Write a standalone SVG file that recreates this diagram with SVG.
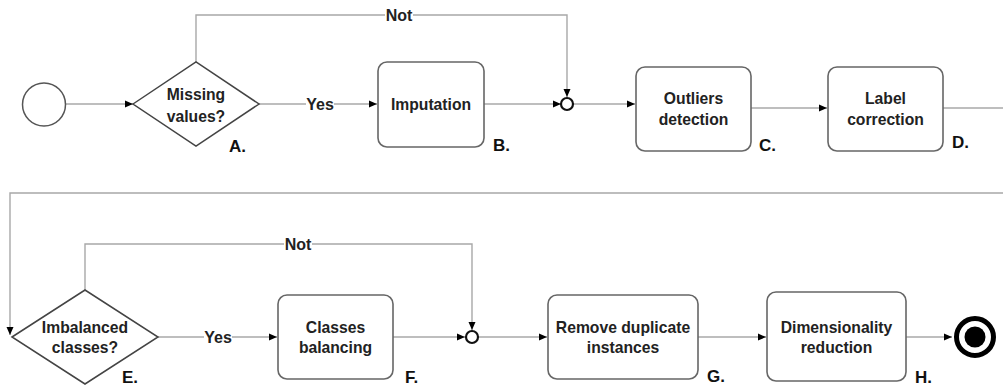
<svg xmlns="http://www.w3.org/2000/svg" width="1003" height="385" viewBox="0 0 1003 385">
<style>
.conn{fill:none;stroke:#a8a8a8;stroke-width:1.4}
.box{fill:#fff;stroke:#666;stroke-width:1.6}
.dia{fill:#fff;stroke:#444;stroke-width:1.5}
.gw{fill:#fff;stroke:#111;stroke-width:2.2}
.t{font-family:"Liberation Sans",Arial,sans-serif;font-weight:bold;font-size:15.7px;fill:#222;text-anchor:middle}
.lbl{font-family:"Liberation Sans",Arial,sans-serif;font-weight:bold;font-size:17px;fill:#111}
.el{font-family:"Liberation Sans",Arial,sans-serif;font-weight:bold;font-size:16px;fill:#222;text-anchor:middle}
</style>
<defs>
<marker id="arr" markerUnits="userSpaceOnUse" markerWidth="9" markerHeight="8" refX="8" refY="4" orient="auto">
<path d="M0,0.5 L8,4 L0,7.5 Z" fill="#000"/>
</marker>
</defs>
<rect width="1003" height="385" fill="#fff"/>
<g id="connectors">
<path class="conn" d="M66,104 H133" marker-end="url(#arr)"/>
<path class="conn" d="M259,104 H377" marker-end="url(#arr)"/>
<path class="conn" d="M484,104 H561" marker-end="url(#arr)"/>
<path class="conn" d="M196,62 V15 H567 V97" marker-end="url(#arr)"/>
<path class="conn" d="M574,104 H635" marker-end="url(#arr)"/>
<path class="conn" d="M751,108 H827" marker-end="url(#arr)"/>
<path class="conn" d="M943,108 H1003"/>
<path class="conn" d="M1003,193 H10 V335" marker-end="url(#arr)"/>
<path class="conn" d="M158,337 H277" marker-end="url(#arr)"/>
<path class="conn" d="M393,337 H465" marker-end="url(#arr)"/>
<path class="conn" d="M85,290 V244 H472 V330" marker-end="url(#arr)"/>
<path class="conn" d="M479,337 H547" marker-end="url(#arr)"/>
<path class="conn" d="M698,337 H766" marker-end="url(#arr)"/>
<path class="conn" d="M906,337 H952" marker-end="url(#arr)"/>
<rect x="385" y="7" width="28" height="16" fill="#fff"/>
<text class="el" x="399" y="21">Not</text>
<rect x="306" y="96" width="28" height="16" fill="#fff"/>
<text class="el" x="320" y="110">Yes</text>
<rect x="284" y="236" width="28" height="16" fill="#fff"/>
<text class="el" x="298" y="250">Not</text>
<rect x="204" y="329" width="28" height="16" fill="#fff"/>
<text class="el" x="218" y="343">Yes</text>
</g>
<g id="start"><circle cx="44" cy="104.5" r="21.5" fill="#fff" stroke="#555" stroke-width="1.5"/></g>
<g id="nodeA">
<polygon class="dia" points="133,104 196,62 259,104 196,146"/>
<text class="t" x="196" y="100">Missing</text>
<text class="t" x="196" y="122">values?</text>
<text class="lbl" x="229" y="152">A.</text>
</g>
<g id="nodeB">
<rect class="box" x="378" y="62" width="106" height="85" rx="9"/>
<text class="t" x="431" y="110">Imputation</text>
<text class="lbl" x="493" y="151">B.</text>
</g>
<g id="gw1"><circle class="gw" cx="567" cy="104" r="6"/></g>
<g id="nodeC">
<rect class="box" x="636" y="67" width="115" height="84" rx="9"/>
<text class="t" x="693.5" y="104">Outliers</text>
<text class="t" x="693.5" y="125">detection</text>
<text class="lbl" x="759" y="151">C.</text>
</g>
<g id="nodeD">
<rect class="box" x="828" y="67" width="115" height="84" rx="9"/>
<text class="t" x="885.5" y="104">Label</text>
<text class="t" x="885.5" y="125">correction</text>
<text class="lbl" x="952" y="148">D.</text>
</g>
<g id="nodeE">
<polygon class="dia" points="12,337 85,290 158,337 85,384"/>
<text class="t" x="85" y="333">Imbalanced</text>
<text class="t" x="85" y="353">classes?</text>
<text class="lbl" x="122" y="383">E.</text>
</g>
<g id="nodeF">
<rect class="box" x="278" y="295" width="115" height="84" rx="9"/>
<text class="t" x="335.5" y="333">Classes</text>
<text class="t" x="335.5" y="353">balancing</text>
<text class="lbl" x="405" y="383">F.</text>
</g>
<g id="gw2"><circle class="gw" cx="472" cy="337" r="6"/></g>
<g id="nodeG">
<rect class="box" x="548" y="295" width="150" height="84" rx="9"/>
<text class="t" x="623" y="333">Remove duplicate</text>
<text class="t" x="623" y="353">instances</text>
<text class="lbl" x="707" y="382">G.</text>
</g>
<g id="nodeH">
<rect class="box" x="767" y="292" width="139" height="89" rx="9"/>
<text class="t" x="836.5" y="333">Dimensionality</text>
<text class="t" x="836.5" y="353">reduction</text>
<text class="lbl" x="915" y="383">H.</text>
</g>
<g id="end">
<circle cx="975" cy="337" r="18.5" fill="#fff" stroke="#000" stroke-width="5"/>
<circle cx="975" cy="337" r="10.5" fill="#000"/>
</g>
</svg>
